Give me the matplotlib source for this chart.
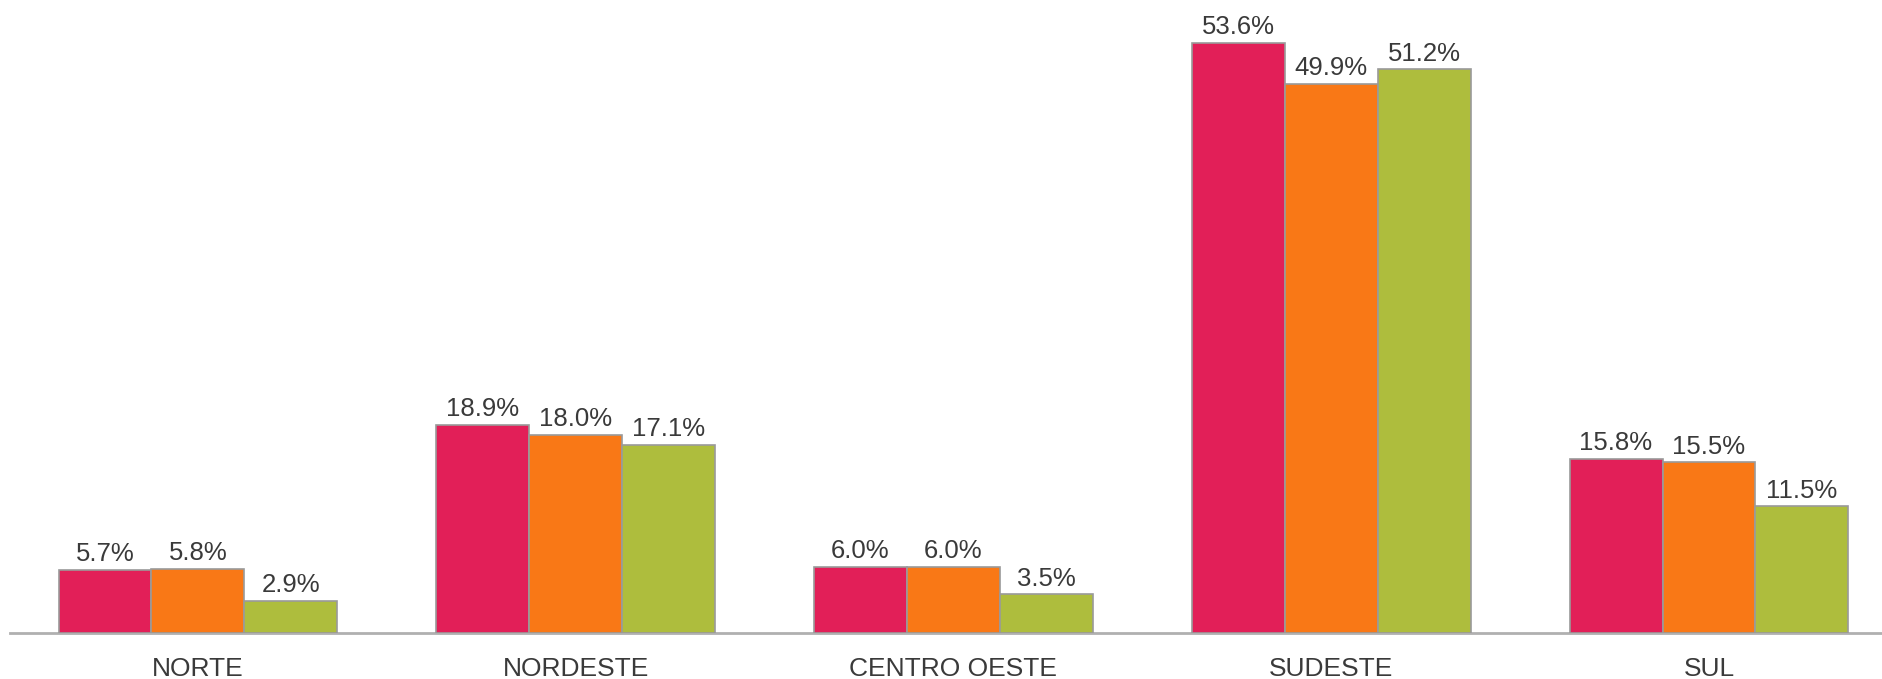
import numpy as np
import matplotlib.pyplot as plt

plt.rcParams['font.family'] = ['Liberation Sans', 'DejaVu Sans']

regioes = ["NORTE", "NORDESTE", "CENTRO OESTE", "SUDESTE", "SUL"]
serie_a = [5.7, 18.9, 6.0, 53.6, 15.8]
serie_b = [5.8, 18.0, 6.0, 49.9, 15.5]
serie_c = [2.9, 17.1, 3.5, 51.2, 11.5]

cores = ['#E21F58', '#F97816', '#AEBD3D']

fig = plt.figure(figsize=(18.82, 6.79), dpi=100)
ax = fig.add_axes([0, 46 / 679, 1, 633 / 679])

x = np.arange(len(regioes))
w = 0.246
for k, (vals, cor) in enumerate(zip([serie_a, serie_b, serie_c], cores)):
    pos = x + (k - 1) * w
    bars = ax.bar(pos, vals, width=w, color=cor, edgecolor='#9a9a9a', linewidth=1.2)
    for b, v in zip(bars, vals):
        ax.text(b.get_x() + b.get_width() / 2, v + 0.35, f"{v:.1f}%",
                ha='center', va='bottom', fontsize=18.5, color='#3a3a3a')

ax.set_xlim(-0.524, 4.458)
ax.set_ylim(0, 57.5)
ax.plot([-0.498, 4.6], [0, 0], color='#b0b0b0', linewidth=2, clip_on=False, zorder=0)

for s in ax.spines.values():
    s.set_visible(False)
ax.set_yticks([])
ax.set_xticks(x)
ax.set_xticklabels(regioes, fontsize=19, color='#3a3a3a')
ax.tick_params(axis='x', length=0, pad=17)

fig.savefig("out.png", dpi=100)
